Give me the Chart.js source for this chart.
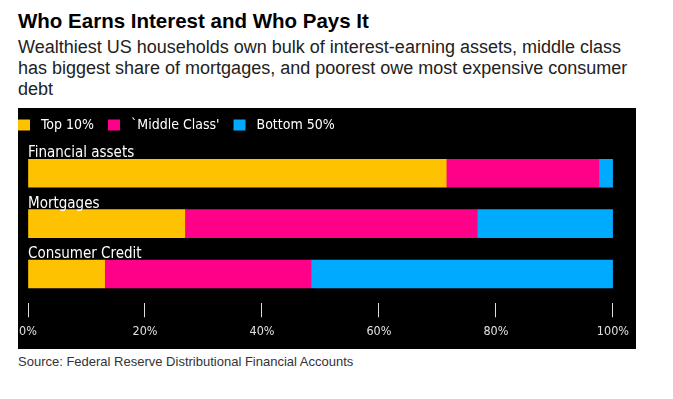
<!DOCTYPE html>
<html>
<head>
<meta charset="utf-8">
<script src="https://cdn.jsdelivr.net/npm/chart.js@4"></script>
<style>
  body { margin: 0; background: #fff; width: 673px; height: 399px; position: relative; overflow: hidden; }
  #title { position: absolute; left: 18px; top: 9px; font: bold 20.5px "Liberation Sans", Arial, sans-serif; line-height: 24px; color: #000; }
  #subtitle { position: absolute; left: 18px; top: 37px; width: 615px; font: 18px "Liberation Sans", Arial, sans-serif; line-height: 21px; color: #222; }
  #panel { position: absolute; left: 18px; top: 108px; width: 618px; height: 241px; background: #000; }
  #wrap { position: absolute; left: 8px; top: 108px; width: 628px; height: 241px; }
  #source { position: absolute; left: 18px; top: 354px; font: 13px "Liberation Sans", Arial, sans-serif; line-height: 15px; color: #333; }
</style>
</head>
<body>
<div id="title">Who Earns Interest and Who Pays It</div>
<div id="subtitle">Wealthiest US households own bulk of interest-earning assets, middle class has biggest share of mortgages, and poorest owe most expensive consumer debt</div>
<div id="panel"></div>
<div id="wrap"><canvas id="chart"></canvas></div>
<div id="source">Source: Federal Reserve Distributional Financial Accounts</div>

<script>
// data (shares in %)
var categories = ["Financial assets", "Mortgages", "Consumer Credit"];
var seriesNames = ["Top 10%", "`Middle Class'", "Bottom 50%"];
var top10 = [71.5, 26.8, 13.1];
var middleClass = [26.1, 50.0, 35.3];
var bottom50 = [2.4, 23.2, 51.6];
var tickValues = [0, 20, 40, 60, 80, 100];

var colors = ["#ffc200", "#ff0088", "#00aaff"];
var labelFont = '"DejaVu Sans Condensed", "DejaVu Sans", sans-serif';

// writes the category name just above each bar
var barTitles = {
  id: "barTitles",
  afterDatasetsDraw: function(chart) {
    var ctx = chart.ctx;
    var bars = chart.getDatasetMeta(0).data;
    ctx.save();
    ctx.fillStyle = "#ffffff";
    ctx.font = "15px " + labelFont;
    ctx.textAlign = "left";
    ctx.textBaseline = "alphabetic";
    for (var i = 0; i < bars.length; i++) {
      ctx.fillText(categories[i], chart.chartArea.left, bars[i].y - bars[i].height / 2 - 2);
    }
    ctx.restore();
  }
};

// legend box gets a fixed height so the plot starts where it should
var legendHeight = {
  id: "legendHeight",
  beforeInit: function(chart) {
    var fit = chart.legend.fit;
    chart.legend.fit = function() {
      fit.bind(chart.legend)();
      this.height = 40;
    };
  }
};

var ctx = document.getElementById("chart");

var chart = new Chart(ctx, {
  type: "bar",
  data: {
    labels: categories,
    datasets: [
      { label: seriesNames[0], data: top10, backgroundColor: colors[0] },
      { label: seriesNames[1], data: middleClass, backgroundColor: colors[1] },
      { label: seriesNames[2], data: bottom50, backgroundColor: colors[2] }
    ]
  },
  options: {
    indexAxis: "y",
    responsive: true,
    maintainAspectRatio: false,
    animation: false,
    barThickness: 28,
    layout: { padding: { top: 0, right: 23, bottom: 0, left: 0 } },
    plugins: {
      tooltip: { enabled: false },
      legend: {
        display: true,
        position: "top",
        align: "start",
        labels: {
          color: "#ffffff",
          boxWidth: 12,
          boxHeight: 11,
          padding: 10,
          font: { family: labelFont, size: 14 },
          generateLabels: function(chart) {
            var items = Chart.defaults.plugins.legend.labels.generateLabels(chart);
            items.forEach(function(it) { it.text = " " + it.text + " "; it.lineWidth = 0; });
            return items;
          }
        }
      }
    },
    scales: {
      x: {
        stacked: true,
        min: 0,
        max: 100,
        afterBuildTicks: function(scale) {
          scale.ticks = tickValues.map(function(v) { return { value: v }; });
        },
        afterFit: function(scale) { scale.height = 49.75; },
        border: { display: false },
        grid: {
          drawOnChartArea: false,
          drawTicks: true,
          tickLength: 18,
          tickBorderDash: [0, 4, 14],
          tickColor: "#dddddd",
          tickWidth: 1
        },
        ticks: {
          color: "#e0e0e0",
          padding: 7,
          maxRotation: 0,
          autoSkip: false,
          font: { family: labelFont, size: 12.5 },
          callback: function(v) { return v + "%"; }
        }
      },
      y: {
        stacked: true,
        afterFit: function(scale) { scale.width = 20; },
        border: { display: false },
        grid: { display: false },
        ticks: { display: false }
      }
    }
  },
  plugins: [barTitles, legendHeight]
});
</script>
</body>
</html>
